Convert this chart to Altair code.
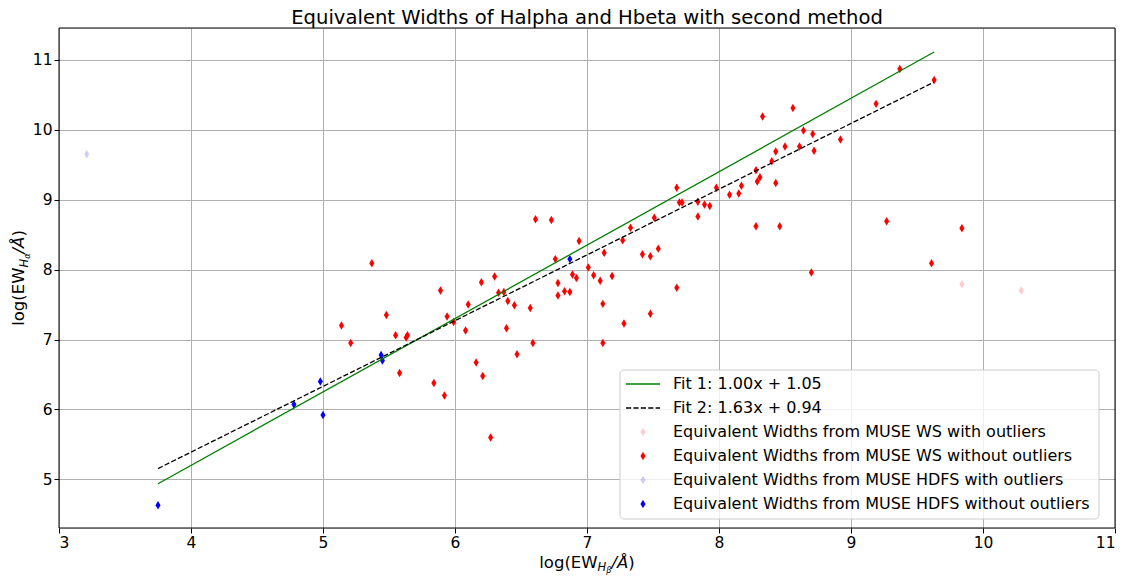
import altair as alt
import pandas as pd

# log equivalent widths: x = log(EW Hbeta), y = log(EW Halpha)
# MUSE WS sample, outliers removed
ws_hbeta = [5.14, 5.21, 5.37, 5.48, 5.55, 5.58, 5.63, 5.64, 5.84, 5.89,
            5.92, 5.94, 5.99, 6.08, 6.10, 6.16, 6.20, 6.21, 6.27, 6.30,
            6.33, 6.37, 6.39, 6.40, 6.45, 6.47, 6.57, 6.59, 6.61, 6.73,
            6.76, 6.78, 6.78, 6.83, 6.87, 6.89, 6.92, 6.94, 7.01, 7.05,
            7.10, 7.12, 7.12, 7.13, 7.19, 7.28, 7.27, 7.33, 7.42, 7.48,
            7.48, 7.51, 7.54, 7.68, 7.68, 7.70, 7.72, 7.84, 7.84, 7.89,
            7.93, 7.98, 8.08, 8.15, 8.17, 8.28, 8.28, 8.29, 8.31, 8.33,
            8.40, 8.43, 8.43, 8.46, 8.50, 8.56, 8.61, 8.64, 8.70, 8.71,
            8.72, 8.92, 9.19, 9.27, 9.37, 9.61, 9.63, 9.84]
ws_halpha = [7.20, 6.95, 8.09, 7.35, 7.06, 6.52, 7.03, 7.06, 6.38, 7.70,
             6.20, 7.33, 7.25, 7.13, 7.50, 6.67, 7.82, 6.48, 5.60, 7.90,
             7.67, 7.68, 7.16, 7.55, 7.49, 6.79, 7.45, 6.95, 8.72, 8.71,
             8.15, 7.81, 7.63, 7.69, 7.68, 7.93, 7.88, 8.41, 8.03, 7.92,
             7.84, 7.51, 6.95, 8.24, 7.91, 7.23, 8.42, 8.60, 8.22, 8.19,
             7.37, 8.74, 8.30, 9.17, 7.74, 8.96, 8.96, 8.97, 8.76, 8.93,
             8.91, 9.17, 9.07, 9.09, 9.20, 8.62, 9.42, 9.26, 9.32, 10.19,
             9.55, 9.24, 9.69, 8.62, 9.76, 10.31, 9.76, 9.99, 7.96, 9.94,
             9.70, 9.86, 10.37, 8.69, 10.87, 8.09, 10.71, 8.59]

# MUSE WS outliers
ws_out_hbeta = [9.84, 10.29]
ws_out_halpha = [7.79, 7.70]

# MUSE HDFS sample, outliers removed
hdfs_hbeta = [3.75, 4.78, 4.98, 5.00, 5.44, 5.45, 6.87]
hdfs_halpha = [4.63, 6.07, 6.40, 5.92, 6.78, 6.70, 8.15]

# MUSE HDFS outliers
hdfs_out_hbeta = [3.21]
hdfs_out_halpha = [9.65]

# linear fits, (slope, intercept), evaluated over the fitted range
fit_names = ["Fit 1", "Fit 2"]
fit_coeffs = [(1.05, 1.00), (0.94, 1.63)]
fit_span = [3.75, 9.63]
fit_labels = [f"{n}: {c[1]:.2f}x + {c[0]:.2f}" for n, c in zip(fit_names, fit_coeffs)]

groups = [
    "Equivalent Widths from MUSE WS with outliers",
    "Equivalent Widths from MUSE WS without outliers",
    "Equivalent Widths from MUSE HDFS with outliers",
    "Equivalent Widths from MUSE HDFS without outliers",
]
group_data = [
    (ws_out_hbeta, ws_out_halpha),
    (ws_hbeta, ws_halpha),
    (hdfs_out_hbeta, hdfs_out_halpha),
    (hdfs_hbeta, hdfs_halpha),
]
group_colors = ["#ff0000", "#ff0000", "#0000ff", "#0000ff"]
group_opacity = [0.2, 1.0, 0.2, 1.0]

fit_styles = [dict(color="#008000"), dict(color="#000000", strokeDash=[5.2, 2.2])]

W, H = 1056, 500
FONT = "DejaVu Sans"
THIN_DIAMOND = "M0,-1L0.6,0L0,1L-0.6,0Z"
MARKER = dict(shape=THIN_DIAMOND, filled=True, size=72, strokeWidth=1.2)

x_scale = alt.Scale(domain=[3, 11], nice=False, zero=False)
y_scale = alt.Scale(domain=[4.305, 11.455], nice=False, zero=False)

axis_style = dict(title=None, grid=True, domain=False, gridColor="#b0b0b0",
                  gridWidth=1, tickColor="black", tickSize=5, tickWidth=1,
                  labelColor="black", labelFont=FONT, labelFontSize=15.5,
                  labelPadding=2, format="d")
x_axis = alt.Axis(values=list(range(3, 12)), **axis_style)
y_axis = alt.Axis(values=list(range(5, 12)), **axis_style)


def xy():
    return dict(x=alt.X("hb:Q", scale=x_scale, axis=x_axis),
                y=alt.Y("ha:Q", scale=y_scale, axis=y_axis))


scatter_layers = []
for (xs, ys), col, op in zip(group_data, group_colors, group_opacity):
    df = pd.DataFrame({"hb": xs, "ha": ys})
    scatter_layers.append(
        alt.Chart(df).mark_point(color=col, opacity=op, **MARKER).encode(**xy())
    )

fit_layers = []
for (m, b), style in zip(fit_coeffs, fit_styles):
    df = pd.DataFrame({"hb": fit_span, "ha": [m * x + b for x in fit_span]})
    fit_layers.append(alt.Chart(df).mark_line(strokeWidth=1.3, **style).encode(**xy()))

one = alt.Data(values=[{}])


def label(text, x, y, size, style="normal", angle=0, align="left", baseline="alphabetic"):
    return alt.Chart(one).mark_text(
        text=text, font=FONT, fontSize=size, fontStyle=style, angle=angle,
        align=align, baseline=baseline, color="black"
    ).encode(x=alt.value(x), y=alt.value(y))


# glyph advances (em) used to lay out the axis titles with subscripts
ADV = {"l": 0.278, "o": 0.612, "g": 0.635, "(": 0.390, "E": 0.632, "W": 0.989,
       "H": 0.752, "β": 0.636, "α": 0.659, "/": 0.337, "Å": 0.684, ")": 0.390}


def piece_width(t, s):
    return sum(ADV[c] for c in t) * s


def axis_title(greek):
    s = 16.5
    return [("log(EW", s, "normal", 0.0), ("H", s * 0.7, "italic", 3.5),
            (greek, s * 0.49, "italic", 5.5), ("/Å", s, "italic", 0.0),
            (")", s, "normal", 0.0)]


titles = [label("Equivalent Widths of Halpha and Hbeta with second method",
                W / 2, -4, 19.6, align="center")]

xt = axis_title("β")
pos = W / 2 - sum(piece_width(t, s) for t, s, _, _ in xt) / 2
for t, s, st, drop in xt:
    titles.append(label(t, pos, 539.7 + drop, s, st))
    pos += piece_width(t, s)

yt = axis_title("α")
pos = H / 2 + sum(piece_width(t, s) for t, s, _, _ in yt) / 2
for t, s, st, drop in yt:
    titles.append(label(t, -35 + drop, pos, s, st, angle=270))
    pos -= piece_width(t, s)

# legend box
LX0, LX1, LY0, LY1 = 561, 1040, 342, 491
legend_box = alt.Chart(one).mark_rect(
    fill="white", fillOpacity=0.8, stroke="#cccccc", strokeWidth=1, cornerRadius=4
).encode(x=alt.value(LX0), x2=alt.value(LX1), y=alt.value(LY0), y2=alt.value(LY1))

legend_layers = [legend_box]
row0, step = 356, 24
for i, lab in enumerate(fit_labels):
    yy = row0 + i * step
    legend_layers.append(
        alt.Chart(one).mark_rule(strokeWidth=1.3, **fit_styles[i]).encode(
            x=alt.value(567), x2=alt.value(601), y=alt.value(yy))
    )
    legend_layers.append(label(lab, 614, yy, 16, baseline="middle"))
for j, g in enumerate(groups):
    yy = row0 + (j + 2) * step
    legend_layers.append(
        alt.Chart(one).mark_point(
            color=group_colors[j], opacity=group_opacity[j], **MARKER
        ).encode(x=alt.value(584), y=alt.value(yy))
    )
    legend_layers.append(label(g, 614, yy, 16, baseline="middle"))

frame = alt.Chart(one).mark_rect(fill=None, stroke="black", strokeWidth=1).encode(
    x=alt.value(0), x2=alt.value(W), y=alt.value(0), y2=alt.value(H))

chart = alt.layer(*scatter_layers, *fit_layers, *titles, *legend_layers, frame).properties(
    width=W, height=H,
    autosize=alt.AutoSizeParams(type="none"),
    padding={"left": 59, "top": 28, "right": 16, "bottom": 48},
).configure_view(stroke=None).configure(background="white")

chart.save("out.html", embed_options={"renderer": "svg", "actions": False})
